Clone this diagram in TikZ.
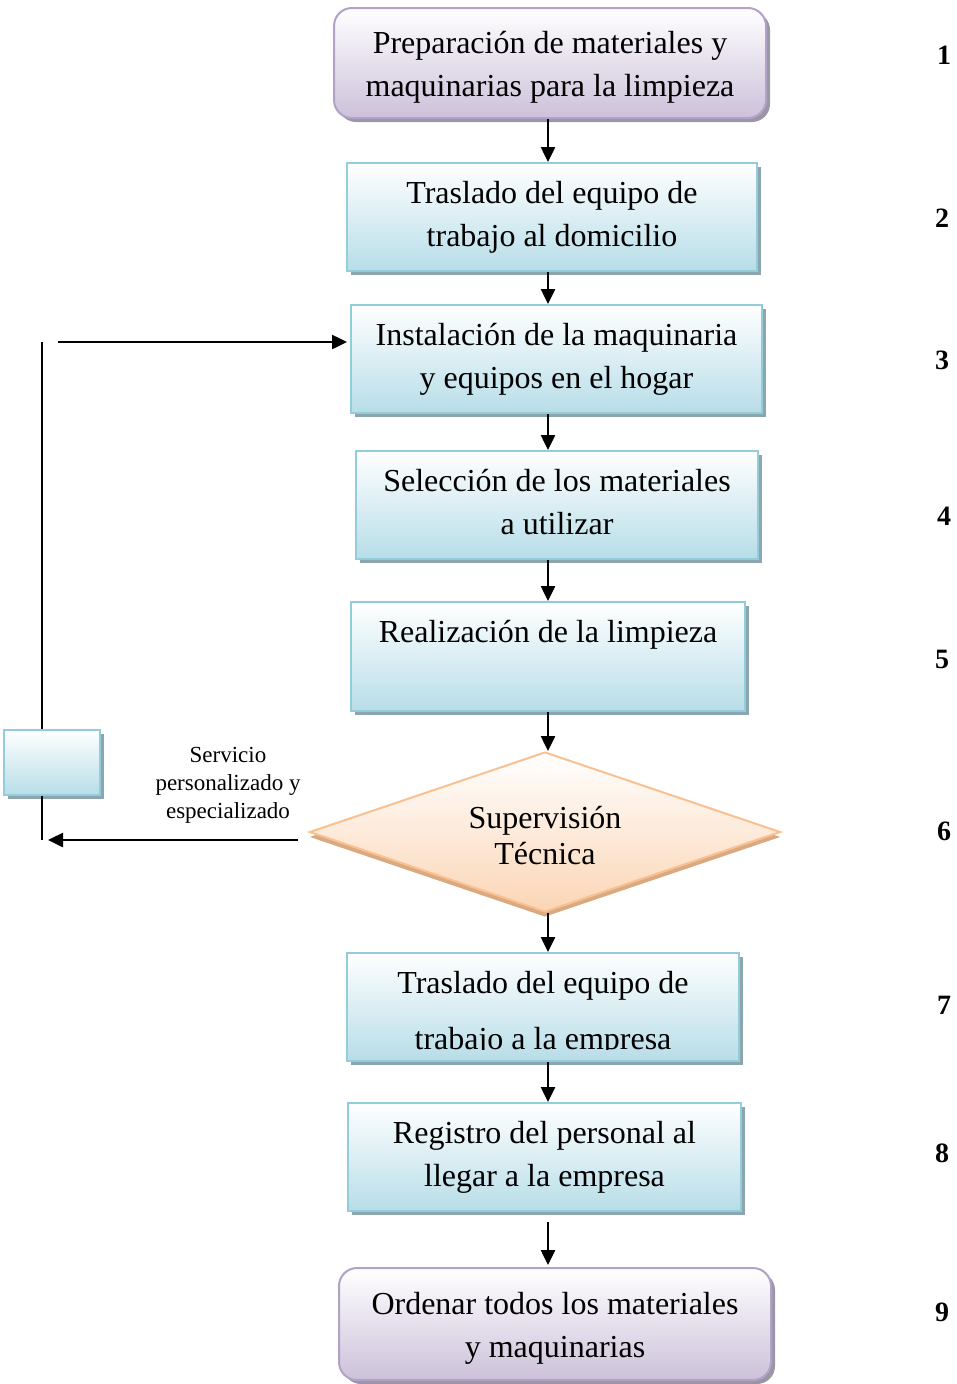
\documentclass[tikz,border=0pt]{standalone}
\usepackage{fontspec}
\setmainfont{Liberation Serif}
\usetikzlibrary{shapes.geometric,shadows,arrows.meta}
\definecolor{bluefill}{HTML}{B7DDE8}
\definecolor{blueline}{HTML}{93CDDC}
\definecolor{blueshadow}{HTML}{8CA6AD}
\definecolor{purpfill}{HTML}{CCC1DA}
\definecolor{purpline}{HTML}{B3A2C7}
\definecolor{purpshadow}{HTML}{9C95A6}
\definecolor{orfill}{HTML}{FBD5B5}
\definecolor{orline}{HTML}{FAC08F}
\definecolor{orshadow}{HTML}{D9AA82}
\newcommand\mainfs{\fontsize{32}{43}\selectfont}
\newcommand\topstrut{\rule{0pt}{30pt}}
\newcommand\botstrut{\rule[-6.5pt]{0pt}{0pt}}
\begin{document}
\begin{tikzpicture}[x=1pt,y=-1pt,
  bluebox/.style={rectangle, draw=blueline, line width=2pt, top color=white, bottom color=bluefill,
    drop shadow={shadow xshift=4pt, shadow yshift=-4pt, fill=blueshadow, opacity=1},
    align=center, font=\mainfs, inner sep=0pt},
  purpbox/.style={rectangle, rounded corners=18pt, draw=purpline, line width=2pt, top color=white, bottom color=purpfill,
    drop shadow={shadow xshift=4pt, shadow yshift=-4pt, fill=purpshadow, opacity=1},
    align=center, font=\mainfs, inner sep=0pt},
  decision/.style={diamond, aspect=2.94, draw=orline, line width=2pt, top color=white, bottom color=orfill,
    drop shadow={shadow xshift=0pt, shadow yshift=-5pt, fill=orshadow, opacity=1},
    align=center, font=\fontsize{32}{36}\selectfont, inner sep=0pt},
  arr/.style={line width=2.5pt, -{Triangle[length=15pt,width=14pt]}},
  plain/.style={line width=2pt},
  num/.style={font=\bfseries\fontsize{28}{30}\selectfont, inner sep=0pt},
  lbl/.style={font=\fontsize{23}{28}\selectfont, align=center, inner sep=0pt}
]
\useasboundingbox (0,0) rectangle (956,1384);

\coordinate (ax) at (548,0);

\node[purpbox, minimum width=432pt, minimum height=110pt] (b1) at (550,63) {\topstrut Preparación de materiales y\\maquinarias para la limpieza};
\node[bluebox, minimum width=410pt, minimum height=108pt] (b2) at (552,217) {Traslado del equipo de\\trabajo al domicilio};
\node[bluebox, minimum width=411pt, minimum height=108pt] (b3) at (556.5,359) {Instalación de la maquinaria\\y equipos en el hogar};
\node[bluebox, minimum width=402pt, minimum height=108pt] (b4) at (557,505) {Selección de los materiales\\a utilizar\botstrut};
\node[bluebox, minimum width=394pt, minimum height=109pt] (b5) at (548,656.5) {Realización de la limpieza\\\mbox{}\botstrut};
\node[decision, minimum width=471pt, minimum height=160pt] (d) at (545,832) {\topstrut Supervisión\\Técnica};
\node[bluebox, minimum width=392pt, minimum height=108pt] (b7) at (543,1007) {};
\begin{scope}
  \clip (347,953) rectangle (739,1049);
  \node[font=\mainfs, inner sep=0pt, anchor=base] (t7a) at (543,993) {Traslado del equipo de};
  \node[font=\mainfs, inner sep=0pt, anchor=base] (t7b) at (543,1049) {trabajo a la empresa};
\end{scope}
\node[bluebox, minimum width=393pt, minimum height=108pt] (b8) at (544.5,1157) {Registro del personal al\\llegar a la empresa};
\node[purpbox, minimum width=432pt, minimum height=112pt] (b9) at (555,1324) {\topstrut Ordenar todos los materiales\\y maquinarias};

\node[bluebox, minimum width=96pt, minimum height=65pt] (sb) at (52,762.5) {};

\coordinate (lt) at (42,342);
\coordinate (lb) at (42,840);
\coordinate (ls) at (58,342);
\coordinate (as) at (298,840);
\coordinate (ae) at (48,840);

\draw[plain] (lt) -- (sb.north -| lt);
\draw[plain] (sb.south -| lt) -- (lb);
\draw[arr, shorten >=3pt] (ls) -- (b3.west |- ls);
\draw[arr] (as) -- (ae);
\node[lbl] (lab) at (228,785) {Servicio\\personalizado y\\especializado};

\draw[arr] (b1.south -| ax) -- (b2.north -| ax);
\draw[arr] (b2.south -| ax) -- (b3.north -| ax);
\draw[arr] (b3.south -| ax) -- (b4.north -| ax);
\draw[arr] (b4.south -| ax) -- (b5.north -| ax);
\draw[arr] (b5.south -| ax) -- (d.north -| ax);
\draw[arr] (d.south -| ax) -- (b7.north -| ax);
\draw[arr] (b7.south -| ax) -- (b8.north -| ax);
\draw[arr, shorten <=10pt, shorten >=2pt] (b8.south -| ax) -- (b9.north -| ax);

\node[num] (n1) at (944,55) {1};
\node[num] (n2) at (942,218) {2};
\node[num] (n3) at (942,360) {3};
\node[num] (n4) at (944,516) {4};
\node[num] (n5) at (942,659) {5};
\node[num] (n6) at (944,831) {6};
\node[num] (n7) at (944,1005) {7};
\node[num] (n8) at (942,1153) {8};
\node[num] (n9) at (942,1312) {9};
\end{tikzpicture}
\end{document}
